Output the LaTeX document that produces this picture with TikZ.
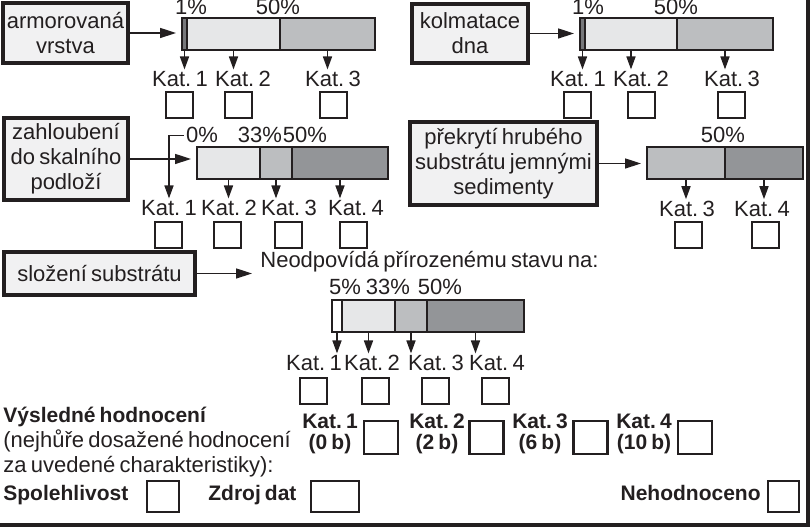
\documentclass[tikz,border=0pt]{standalone}
\usepackage{fontspec}
\setmainfont[WordSpace=0.7]{Liberation Sans}
\usepackage{xcolor}
\usepackage{tikz}
\usetikzlibrary{arrows.meta,positioning}

\definecolor{ink}{HTML}{231F20}
\definecolor{boxfill}{HTML}{F1F1F2}
\definecolor{segD}{HTML}{77787B}
\definecolor{segA}{HTML}{E6E7E8}
\definecolor{segB}{HTML}{BCBEC0}
\definecolor{segC}{HTML}{939598}

\begin{document}
\begin{tikzpicture}[x=0.5pt,y=-0.5pt,color=ink,font=\fontsize{11}{12.5}\selectfont\frenchspacing]
  \tikzstyle{crit}=[draw,line width=1.8pt,fill=boxfill,align=center,inner sep=0pt]
  \tikzstyle{seg}=[draw,line width=1.2pt,minimum height=16pt,inner sep=0pt,outer sep=0pt,anchor=north west]
  \tikzstyle{kat}=[inner sep=1pt,anchor=base]
  \tikzstyle{pct}=[inner sep=1pt,anchor=base]
  \tikzstyle{tick}=[draw,line width=1pt,minimum width=13.5pt,minimum height=13pt,inner sep=0pt]
  \tikzstyle{bigtick}=[draw,line width=1.1pt,minimum width=17pt,minimum height=16.5pt,inner sep=0pt]
  \tikzstyle{bold}=[font=\fontsize{10.5}{12.5}\selectfont\bfseries\frenchspacing]
  \tikzstyle{katres}=[align=center,inner sep=0pt,font=\fontsize{10.5}{10.5}\selectfont\bfseries\frenchspacing]
  \tikzstyle{down}=[->,line width=0.8pt,>={Triangle[length=6.5pt,width=4.5pt]}]
  \tikzstyle{feed}=[->,line width=0.8pt,>={Triangle[length=8pt,width=5pt]},shorten >=3pt]
  \useasboundingbox (0,0) rectangle (811,528);

  % criteria boxes
  \node[crit,minimum width=62.5pt,minimum height=30pt] (arm) at (65.5,33) {armorovaná\\vrstva};
  \node[crit,minimum width=58pt,minimum height=29.5pt] (kol) at (470,33.5) {kolmatace\\dna};
  \node[crit,minimum width=62pt,minimum height=41pt] (zah) at (66,159) {zahloubení\\do skalního\\podloží};
  \node[crit,minimum width=93.5pt,minimum height=41.5pt] (pre) at (503.5,163.5) {překrytí hrubého\\substrátu jemnými\\sedimenty};
  \node[crit,minimum width=95.5pt,minimum height=21.5pt] (slo) at (99.5,273.5) {složení substrátu};

  % bar 1
  \node[seg,fill=segD,minimum width=2.5pt] (b1a) at (182,18) {};
  \node[seg,fill=segA,minimum width=46.5pt,right=0pt of b1a] (b1b) {};
  \node[seg,fill=segB,minimum width=47.5pt,right=0pt of b1b] (b1c) {};
  \node[pct] (p11) at (191,14.5) {1\%};
  \node[pct] (p12) at (278,14.5) {50\%};
  \node[kat] (k11) at (180,87) {Kat. 1};
  \node[kat] (k12) at (243,87) {Kat. 2};
  \node[kat] (k13) at (333,87) {Kat. 3};
  \node[tick] (c11) at (179,105.5) {};
  \node[tick] (c12) at (238,105.5) {};
  \node[tick] (c13) at (333,105.5) {};
  \draw[feed] (arm.east) -- (arm.east -| b1a.west);
  \foreach \s in {b1a,b1b,b1c}
    \draw[down] (\s.south) -- (\s.south |- k11.north);

  % bar 2
  \node[seg,fill=segD,minimum width=2.5pt] (b2a) at (580,18) {};
  \node[seg,fill=segA,minimum width=46pt,right=0pt of b2a] (b2b) {};
  \node[seg,fill=segB,minimum width=48pt,right=0pt of b2b] (b2c) {};
  \node[pct] (p21) at (588,14.5) {1\%};
  \node[pct] (p22) at (676,14.5) {50\%};
  \node[kat] (k21) at (578,87) {Kat. 1};
  \node[kat] (k22) at (641,87) {Kat. 2};
  \node[kat] (k23) at (732,87) {Kat. 3};
  \node[tick] (c21) at (577,105.5) {};
  \node[tick] (c22) at (641,105.5) {};
  \node[tick] (c23) at (731,105.5) {};
  \draw[feed] (kol.east) -- (kol.east -| b2a.west);
  \foreach \s in {b2a,b2b,b2c}
    \draw[down] (\s.south) -- (\s.south |- k21.north);

  % bar 3
  \node[seg,fill=segA,minimum width=31.5pt] (b3a) at (197,147) {};
  \node[seg,fill=segB,minimum width=16pt,right=0pt of b3a] (b3b) {};
  \node[seg,fill=segC,minimum width=48pt,right=0pt of b3b] (b3c) {};
  \node[pct] (p31) at (202,143) {0\%};
  \node[pct] (p32) at (260,143) {33\%};
  \node[pct] (p33) at (305,143) {50\%};
  \node[kat] (k31) at (169,216) {Kat. 1};
  \node[kat] (k32) at (229,216) {Kat. 2};
  \node[kat] (k33) at (289,216) {Kat. 3};
  \node[kat] (k34) at (356,216) {Kat. 4};
  \node[tick] (c31) at (168,235.5) {};
  \node[tick] (c32) at (227,235.5) {};
  \node[tick] (c33) at (288,235.5) {};
  \node[tick] (c34) at (353,235.5) {};
  \draw[feed] (zah.east) -- (zah.east -| b3a.west);
  \draw[down] (p31.west) -| (k31.north);
  \foreach \s in {b3a,b3b,b3c}
    \draw[down] (\s.south) -- (\s.south |- k31.north);

  % bar 4
  \node[seg,fill=segB,minimum width=39pt] (b4a) at (647,147) {};
  \node[seg,fill=segC,minimum width=39pt,right=0pt of b4a] (b4b) {};
  \node[pct] (p41) at (723,143) {50\%};
  \node[kat] (k41) at (687,217) {Kat. 3};
  \node[kat] (k42) at (762,217) {Kat. 4};
  \node[tick] (c41) at (688,235.5) {};
  \node[tick] (c42) at (765,235.5) {};
  \draw[feed] (pre.east) -- (pre.east -| b4a.west);
  \foreach \s in {b4a,b4b}
    \draw[down] (\s.south) -- (\s.south |- k41.north);

  % bar 5
  \node[anchor=base west,inner sep=1pt] (neo) at (258,268) {Neodpovídá přírozenému stavu na:};
  \node[seg,fill=white,minimum width=5pt] (b5a) at (332,300) {};
  \node[seg,fill=segA,minimum width=26.5pt,right=0pt of b5a] (b5b) {};
  \node[seg,fill=segB,minimum width=16pt,right=0pt of b5b] (b5c) {};
  \node[seg,fill=segC,minimum width=48.5pt,right=0pt of b5c] (b5d) {};
  \node[pct] (p51) at (345,295) {5\%};
  \node[pct] (p52) at (388,295) {33\%};
  \node[pct] (p53) at (440,295) {50\%};
  \node[kat] (k51) at (314,371) {Kat. 1};
  \node[kat] (k52) at (372,371) {Kat. 2};
  \node[kat] (k53) at (436,371) {Kat. 3};
  \node[kat] (k54) at (497,371) {Kat. 4};
  \node[tick] (c51) at (313,391) {};
  \node[tick] (c52) at (375,391) {};
  \node[tick] (c53) at (435,391) {};
  \node[tick] (c54) at (495,391) {};
  \draw[feed] (slo.east) -- (slo.east -| neo.west);
  \foreach \s in {b5a,b5b,b5c,b5d}
    \draw[down] (\s.south) -- (\s.south |- k51.north);

  % final assessment
  \node[bold,anchor=base west,inner sep=0pt] (vys) at (3,423) {Výsledné hodnocení};
  \node[anchor=base west,inner sep=0pt] (nej) at (3,448) {(nejhůře dosažené hodnocení};
  \node[anchor=base west,inner sep=0pt] (uve) at (3,473) {za uvedené charakteristiky):};
  \node[katres] (r1) at (330,434) {Kat. 1\\(0 b)};
  \node[katres] (r2) at (437,434) {Kat. 2\\(2 b)};
  \node[katres] (r3) at (540,434) {Kat. 3\\(6 b)};
  \node[katres] (r4) at (644,434) {Kat. 4\\(10 b)};
  \node[bigtick] (q1) at (381,437.5) {};
  \node[bigtick] (q2) at (486.5,437.5) {};
  \node[bigtick] (q3) at (590.5,437.5) {};
  \node[bigtick] (q4) at (695,437.5) {};

  \node[bold,anchor=base west,inner sep=0pt] (spo) at (3,501) {Spolehlivost};
  \node[bigtick,minimum width=16pt,minimum height=15.5pt] (qs) at (163,496.5) {};
  \node[bold,anchor=base west,inner sep=0pt] (zdr) at (208,501) {Zdroj dat};
  \node[bigtick,minimum width=24pt,minimum height=15.5pt] (qz) at (335,496.5) {};
  \node[bold,anchor=base east,inner sep=0pt] (neh) at (761,501) {Nehodnoceno};
  \node[bigtick,minimum width=15.5pt,minimum height=15.5pt] (qn) at (783.5,496.5) {};

  % frame
  \draw[line width=2pt] (0,525) -- (807.5,525) -- (807.5,0);
\end{tikzpicture}
\end{document}
